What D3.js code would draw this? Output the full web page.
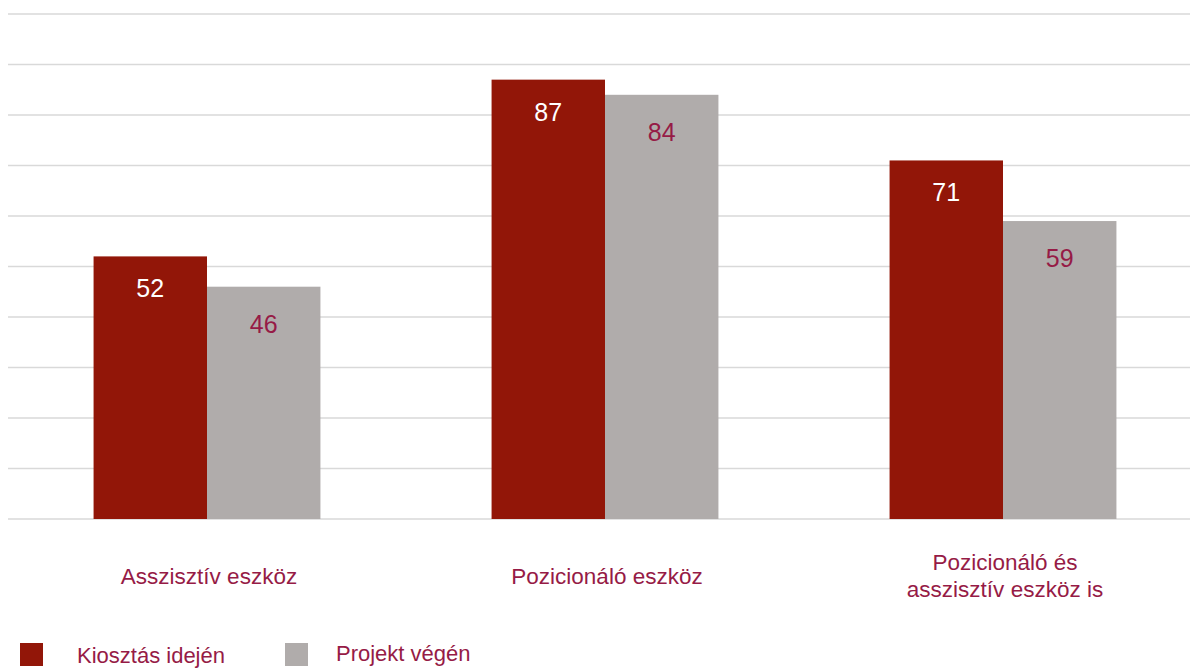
<!DOCTYPE html>
<html>
<head>
<meta charset="utf-8">
<script src="https://cdn.jsdelivr.net/npm/d3@7"></script>
<style>
  html, body { margin: 0; padding: 0; background: #ffffff; }
  svg { display: block; font-family: "Liberation Sans", Arial, sans-serif; }
</style>
</head>
<body>
<svg id="chart" width="1190" height="668"></svg>
<script>
// Categories (label lines) and the two series
const categories = [
  ["Asszisztív eszköz"],
  ["Pozicionáló eszköz"],
  ["Pozicionáló és", "asszisztív eszköz is"]
];
const seriesNames = ["Kiosztás idején", "Projekt végén"];
const kiosztasIdejen = [52, 87, 71];
const projektVegen = [46, 84, 59];
const yTicks = [0, 10, 20, 30, 40, 50, 60, 70, 80, 90, 100];

const colors = ["#921608", "#b0acab"];
const labelColors = ["#ffffff", "#961b46"];
const textColor = "#961b46";

const svg = d3.select("#chart");

const catKeys = categories.map(c => c.join(" "));
const x = d3.scaleBand()
  .domain(catKeys)
  .range([8, 1202])
  .paddingInner(0.43)
  .paddingOuter(0.215);

const xSub = d3.scaleBand()
  .domain(seriesNames)
  .range([0, x.bandwidth()]);

const y = d3.scaleLinear().domain([0, 100]).range([519, 14]);

// Horizontal gridlines
svg.append("g")
  .selectAll("line")
  .data(yTicks)
  .join("line")
  .attr("x1", 8)
  .attr("x2", 1202)
  .attr("y1", d => y(d))
  .attr("y2", d => y(d))
  .attr("stroke", "#d9d9d9")
  .attr("stroke-width", 1.6);

// Bars
const rows = catKeys.map((k, i) => ({
  key: k,
  values: [kiosztasIdejen[i], projektVegen[i]]
}));

const groups = svg.append("g")
  .selectAll("g")
  .data(rows)
  .join("g")
  .attr("transform", d => `translate(${x(d.key)},0)`);

groups.selectAll("rect")
  .data(d => d.values.map((v, j) => ({ v, j })))
  .join("rect")
  .attr("x", d => xSub(seriesNames[d.j]))
  .attr("width", xSub.bandwidth())
  .attr("y", d => y(d.v))
  .attr("height", d => y(0) - y(d.v))
  .attr("fill", d => colors[d.j]);

// Value labels inside the bar tops
const labelDrop = [41, 46];
groups.selectAll("text")
  .data(d => d.values.map((v, j) => ({ v, j })))
  .join("text")
  .attr("x", d => xSub(seriesNames[d.j]) + xSub.bandwidth() / 2)
  .attr("y", d => y(d.v) + labelDrop[d.j])
  .attr("text-anchor", "middle")
  .attr("font-size", 25)
  .attr("fill", d => labelColors[d.j])
  .text(d => d.v);

// Category labels under the axis
const lineHeight = 27;
svg.append("g")
  .selectAll("text")
  .data(categories)
  .join("text")
  .attr("text-anchor", "middle")
  .attr("font-size", 22.5)
  .attr("fill", textColor)
  .attr("transform", (d, i) => `translate(${x(catKeys[i]) + x.bandwidth() / 2 + 2},${576 - (d.length - 1) * lineHeight / 2})`)
  .each(function(d) {
    d3.select(this).selectAll("tspan")
      .data(d)
      .join("tspan")
      .attr("x", 0)
      .attr("y", (t, k) => k * lineHeight)
      .attr("dy", "0.35em")
      .text(t => t);
  });

// Legend
const legendPos = [{ x: 20, ty: 663 }, { x: 285, ty: 661 }];
const legend = svg.append("g")
  .selectAll("g")
  .data(seriesNames)
  .join("g");

legend.append("rect")
  .attr("x", (d, i) => legendPos[i].x)
  .attr("y", 643)
  .attr("width", 23)
  .attr("height", 23)
  .attr("fill", (d, i) => colors[i]);

legend.append("text")
  .attr("x", (d, i) => legendPos[i].x + 57 - (i ? 6 : 0))
  .attr("y", (d, i) => legendPos[i].ty)
  .attr("font-size", 22)
  .attr("fill", textColor)
  .text(d => d);
</script>
</body>
</html>
